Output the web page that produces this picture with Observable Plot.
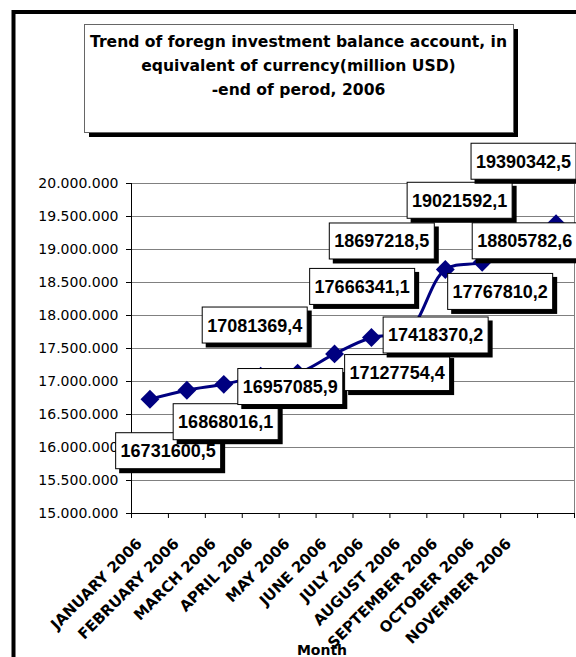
<!DOCTYPE html>
<html>
<head>
<meta charset="utf-8">
<script src="https://cdn.jsdelivr.net/npm/d3@7"></script>
<script src="https://cdn.jsdelivr.net/npm/@observablehq/plot@0.6"></script>
<style>
  html, body { margin: 0; padding: 0; background: #fff; }
  #chart svg { display: block; }
</style>
</head>
<body>
<div id="chart"></div>
<script>
// ---- data ----
const months = ["JANUARY 2006","FEBRUARY 2006","MARCH 2006","APRIL 2006","MAY 2006","JUNE 2006",
                "JULY 2006","AUGUST 2006","SEPTEMBER 2006","OCTOBER 2006","NOVEMBER 2006","DECEMBER 2006"];
const balance = [16731600.5, 16868016.1, 16957085.9, 17081369.4, 17127754.4, 17418370.2,
                 17666341.1, 17767810.2, 18697218.5, 18805782.6, 19021592.1, 19390342.5];
const tickLabels = ["JANUARY 2006","FEBRUARY 2006","MARCH 2006","APRIL 2006","MAY 2006","JUNE 2006",
                    "JULY 2006","AUGUST 2006","SEPTEMBER 2006","OCTOBER 2006","NOVEMBER 2006"];
const yTicks = [15000000, 15500000, 16000000, 16500000, 17000000, 17500000,
                18000000, 18500000, 19000000, 19500000, 20000000];
const categoryEdges = [0,1,2,3,4,5,6,7,8,9,10,11,12];
const titleLines = ["Trend of foregn investment balance account, in",
                    "equivalent of currency(million USD)",
                    "-end of perod, 2006"];
const axisTitle = "Month";

// label box placement (pixel offset of box centre from its point)
const labelOffsets = [[18.7,52],[39.3,32],[67,2.7],[-5.5,-50.6],[100,0],[101.6,-18.4],
                      [-8.8,-50.6],[92.3,-38.9],[-63,-28],[43,-21],[-59,-47.3],[-32,-62]];

const data = months.map((m, i) => ({
  month: m, pos: i + 0.5, value: balance[i],
  label: balance[i].toFixed(1).replace(".", ",")
}));

const fmt = d3.formatLocale({decimal: ",", thousands: ".", grouping: [3], currency: ["", ""]}).format(",");

const navy = "#000080";

const plot = Plot.plot({
  width: 576, height: 657,
  marginLeft: 131, marginRight: 2, marginTop: 183, marginBottom: 144,
  style: {background: "#fff", color: "#000", overflow: "visible"},
  x: {domain: [0, 12], label: null},
  y: {domain: [15000000, 20000000], label: null},
  marks: [
    Plot.ruleY(yTicks.slice(1), {stroke: "#808080", strokeWidth: 1}),
    Plot.ruleX([12], {stroke: "#808080"}),
    Plot.ruleX([0], {stroke: "#000"}),
    Plot.ruleY([15000000], {stroke: "#000"}),
    Plot.axisY({ticks: yTicks, tickFormat: fmt, tickSize: 5, tickPadding: 8, label: null,
                fontSize: 14, fontFamily: "DejaVu Sans", stroke: "#000", fill: "#000"}),
    Plot.axisX({ticks: categoryEdges, tickFormat: () => "", tickSize: 5, label: null, stroke: "#000"}),
    Plot.text(tickLabels, {x: (d, i) => i + 0.5, frameAnchor: "bottom", rotate: -45,
                textAnchor: "end", lineAnchor: "bottom", dx: -7, dy: 31,
                fontSize: 15, fontWeight: "bold", fontFamily: "DejaVu Sans", fill: "#000"}),
    Plot.line(data, {x: "pos", y: "value", curve: "catmull-rom", stroke: navy, strokeWidth: 3}),
    Plot.dot(data, {x: "pos", y: "value", symbol: "diamond2", r: 8.5, fill: navy, stroke: "none"})
  ]
});

document.getElementById("chart").appendChild(plot);

const svg = d3.select(plot);
const xs = plot.scale("x"), ys = plot.scale("y");

// outer chart border
svg.append("rect").attr("x", 13.5).attr("y", 12).attr("width", 700).attr("height", 700)
  .attr("fill", "none").attr("stroke", "#000").attr("stroke-width", 4);

// title box
const tg = svg.append("g");
tg.append("rect").attr("x", 89).attr("y", 29).attr("width", 429).attr("height", 108).attr("fill", "#000");
tg.append("rect").attr("x", 84.5).attr("y", 24.5).attr("width", 429).attr("height", 108)
  .attr("fill", "#fff").attr("stroke", "#666").attr("stroke-width", 1);
titleLines.forEach((t, i) => {
  tg.append("text").attr("x", 298.5).attr("y", 47 + i * 24).attr("text-anchor", "middle")
    .attr("font-family", "DejaVu Sans").attr("font-weight", "bold").attr("font-size", 15.6)
    .attr("fill", "#000").text(t);
});

// axis title
svg.append("text").attr("x", 322).attr("y", 654.5).attr("text-anchor", "middle")
  .attr("font-family", "DejaVu Sans").attr("font-weight", "bold").attr("font-size", 14)
  .attr("fill", "#000").text(axisTitle);

// data labels with shadowed boxes
const bw = 106, bh = 37;
const lg = svg.append("g");
data.forEach((d, i) => {
  const cx = xs.apply(d.pos) + labelOffsets[i][0];
  const cy = ys.apply(d.value) + labelOffsets[i][1];
  const g = lg.append("g");
  g.append("rect").attr("x", cx - bw / 2 + 4).attr("y", cy - bh / 2 + 4)
    .attr("width", bw).attr("height", bh).attr("fill", "#000");
  g.append("rect").attr("x", cx - bw / 2 + 0.5).attr("y", cy - bh / 2 + 0.5)
    .attr("width", bw - 1).attr("height", bh - 1).attr("fill", "#fff")
    .attr("stroke", "#000").attr("stroke-width", 1);
  g.append("text").attr("x", cx).attr("y", cy + 6.5).attr("text-anchor", "middle")
    .attr("font-family", "Liberation Sans, Arial, sans-serif").attr("font-weight", "bold")
    .attr("font-size", 18).attr("fill", "#000").text(d.label);
});
</script>
</body>
</html>
